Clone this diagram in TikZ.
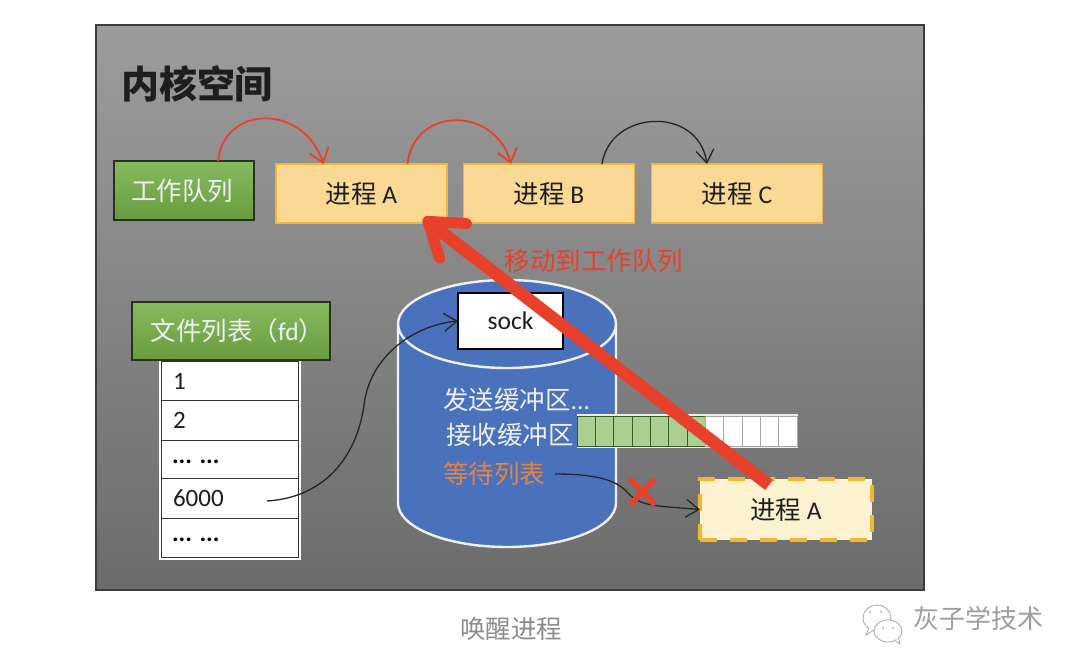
\documentclass[tikz,border=0pt]{standalone}
\usepackage{fontspec}
\setmainfont{Noto Sans CJK SC}
\newfontfamily\lat{Carlito}
\usetikzlibrary{arrows.meta,calc}
\definecolor{redarr}{HTML}{E8402A}
\definecolor{panelbd}{HTML}{3C3C3C}
\definecolor{paneltop}{HTML}{9C9C9C}
\definecolor{panelbot}{HTML}{6C6C6C}
\definecolor{greentop}{HTML}{86BA5E}
\definecolor{greenbot}{HTML}{689C3E}
\definecolor{greenbd}{HTML}{26331C}
\definecolor{procfill}{HTML}{FAD994}
\definecolor{procbd}{HTML}{F2B632}
\definecolor{waitfill}{HTML}{FDF2D0}
\definecolor{blueC}{HTML}{4A71BC}
\definecolor{txt}{HTML}{1E1E1E}
\definecolor{softwhite}{HTML}{EEF1F6}
\definecolor{orangetxt}{HTML}{E28546}
\definecolor{cellgreen}{HTML}{A9D08E}
\definecolor{cellline}{HTML}{3F5A2A}
\tikzset{
  boxbase/.style={inner sep=0pt,outer sep=0pt,font=\fontsize{25.5}{28}\selectfont,text=txt},
  greenbox/.style={boxbase,draw=greenbd,line width=1.6pt,top color=greentop,bottom color=greenbot,text=softwhite},
  procbox/.style={boxbase,draw=procbd,line width=1.2pt,fill=procfill,minimum width=171pt,minimum height=59pt},
  waitbox/.style={boxbase,draw=procbd,line width=4pt,dash pattern=on 17pt off 13pt,fill=waitfill,minimum width=172pt,minimum height=61pt},
  rowbox/.style={boxbase,draw=black!80,line width=1pt,fill=white,minimum width=137pt},
  rowlabel/.style={boxbase,anchor=west,font=\fontsize{25}{28}\selectfont},
  dotlabel/.style={boxbase,anchor=base west,font=\fontsize{25}{28}\selectfont\lat\bfseries,text=black},
  redcurve/.style={draw=redarr,line width=1.8pt,-{Straight Barb[length=13pt,width=20pt,line width=1.8pt]}},
  blackcurve/.style={draw=black!85,line width=1.3pt,-{Straight Barb[length=13pt,width=18pt,line width=1.3pt]}},
  whitetext/.style={text=softwhite,font=\fontsize{25.5}{28}\selectfont,inner sep=0pt},
  cell/.style={line width=.8pt},
}
\begin{document}
\begin{tikzpicture}[x=1pt,y=-1pt]
\useasboundingbox (0,0) rectangle (1080,664);
\fill[white] (0,0) rectangle (1080,664);
% panel
\node[draw=panelbd,line width=2pt,top color=paneltop,bottom color=panelbot,minimum width=828pt,minimum height=565pt,inner sep=0pt,outer sep=0pt] (panel) at (510,307.5) {};
\node[inner sep=0pt,text=txt,font=\fontsize{38}{42}\selectfont\bfseries] (title) at (197,84) {内核空间};
% work queue
\node[greenbox,minimum width=140pt,minimum height=59pt] (wq) at (184,190.5) {\hspace*{-4pt}工作队列};
\node[procbox] (pa) at (361.5,193.5) {\raisebox{-1pt}{进程 {\lat A}}};
\node[procbox] (pb) at (549,193.5) {\raisebox{-1pt}{进程 {\lat B}}};
\node[procbox] (pc) at (737,193.5) {\raisebox{-1pt}{进程 {\lat C}}};
\draw[redcurve] ([xshift=34pt]wq.north) .. controls (224,105) and (303,103) .. ([xshift=-38pt]pa.north);
\draw[redcurve] ([xshift=46pt]pa.north) .. controls (414,106) and (495,106) .. ([xshift=-38pt]pb.north);
\draw[blackcurve] ([xshift=53pt]pb.north) .. controls (610,110) and (698,105) .. ([xshift=-30pt]pc.north);
% fd list
\fill[white] (159,360) rectangle (301,560);
\node[rowbox,minimum height=39pt] (r1) at (230,381) {};
\node[rowbox,minimum height=40pt] (r2) at (230,420.5) {};
\node[rowbox,minimum height=38pt] (r3) at (230,459.5) {};
\node[rowbox,minimum height=40pt] (r4) at (230,498.5) {};
\node[rowbox,minimum height=39pt] (r5) at (230,538) {};
\node[rowlabel] (t1) at (173,381) {\lat 1};
\node[rowlabel] (t2) at (173,420.5) {\lat 2};
\node[dotlabel] (t3) at (172,463) {... ...};
\node[rowlabel] (t4) at (173,498.5) {\lat 6000};
\node[dotlabel] (t5) at (172,541) {... ...};
\node[greenbox,minimum width=198pt,minimum height=58pt] (fd) at (231,331) {\hspace*{13pt}文件列表（{\lat fd}）};
% cylinder
\fill[blueC] (398,324) -- (398,503) arc[start angle=180,end angle=360,x radius=109pt,y radius=44pt] -- (616,324) arc[start angle=0,end angle=180,x radius=109pt,y radius=44pt] -- cycle;
\draw[softwhite,line width=2.4pt] (507,324) ellipse[x radius=109pt,y radius=44pt];
\draw[softwhite,line width=2.4pt] (398,324) -- (398,503) arc[start angle=180,end angle=360,x radius=109pt,y radius=44pt] -- (616,324);
\node[boxbase,draw=black,line width=1.5pt,fill=white,minimum width=105pt,minimum height=56pt] (sock) at (510.5,321) {\lat sock};
\node[whitetext,anchor=west] (send) at (443,400) {发送缓冲区{\lat ...}};
\node[whitetext,anchor=west] (recv) at (446,435) {接收缓冲区};
\node[whitetext,anchor=west,text=orangetxt] (waitq) at (443,474) {等待列表};
% buffer
\fill[white!85!gray] (577,414) rectangle (798,448);
\foreach \i in {0,...,11}{
  \pgfmathsetmacro{\xa}{577+\i*18.33}
  \pgfmathsetmacro{\xb}{577+(\i+1)*18.33}
  \ifnum\i<7
    \draw[cell,draw=cellline,fill=cellgreen] (\xa,416.5) rectangle (\xb,446);
  \else
    \draw[cell,draw=black!35,fill=white] (\xa,416.5) rectangle (\xb,446);
  \fi
}
% waiting process
\node[waitbox] (wa) at (786,509.5) {\raisebox{-2pt}{进程 {\lat A}}};
% thin connectors
\coordinate (fdstart) at (267,501);
\coordinate (wqstart) at (555,474);
\draw[blackcurve] (fdstart) .. controls (330,497) and (358,450) .. (364,405) .. controls (370,355) and (415,325) .. (sock.west);
\draw[blackcurve] (wqstart) .. controls (590,474) and (615,478) .. (628,493) .. controls (640,507) and (660,506) .. (wa.west);
\draw[redarr,line width=5.5pt] (630,479) -- (655,505) (655,479) -- (630,505);
% big arrow
\coordinate (bigstart) at (769,485);
\draw[redarr,line width=12.5pt,-{Straight Barb[length=32pt,width=44pt,line width=11pt,round]}] (bigstart) -- ([xshift=62pt,yshift=5pt]pa.south);
\node[inner sep=0pt,text=redarr,font=\fontsize{25.5}{28}\selectfont] (move) at (594,261) {移动到工作队列};
% caption
\node[inner sep=0pt,text=black!45,font=\fontsize{25.5}{28}\selectfont] (cap) at (511,629) {唤醒进程};
% watermark
\draw[black!35,line width=.8pt,fill=white] (877,618) ellipse[x radius=14pt,y radius=13pt];
\draw[black!35,line width=.8pt,fill=white] (888,631) ellipse[x radius=14pt,y radius=11pt];
\draw[black!35,line width=.8pt,fill=white] (869,628) -- (866,635) -- (874,630);
\draw[black!35,line width=.8pt,fill=white] (894,640) -- (900,644) -- (899,639);
\foreach \p in {(870,612),(881,612),(883,628),(893,628)} \fill[black!35] \p circle[radius=1pt];
\node[inner sep=0pt,text=black!38,font=\fontsize{26}{28}\selectfont] (wm) at (978,619) {灰子学技术};
\end{tikzpicture}
\end{document}
